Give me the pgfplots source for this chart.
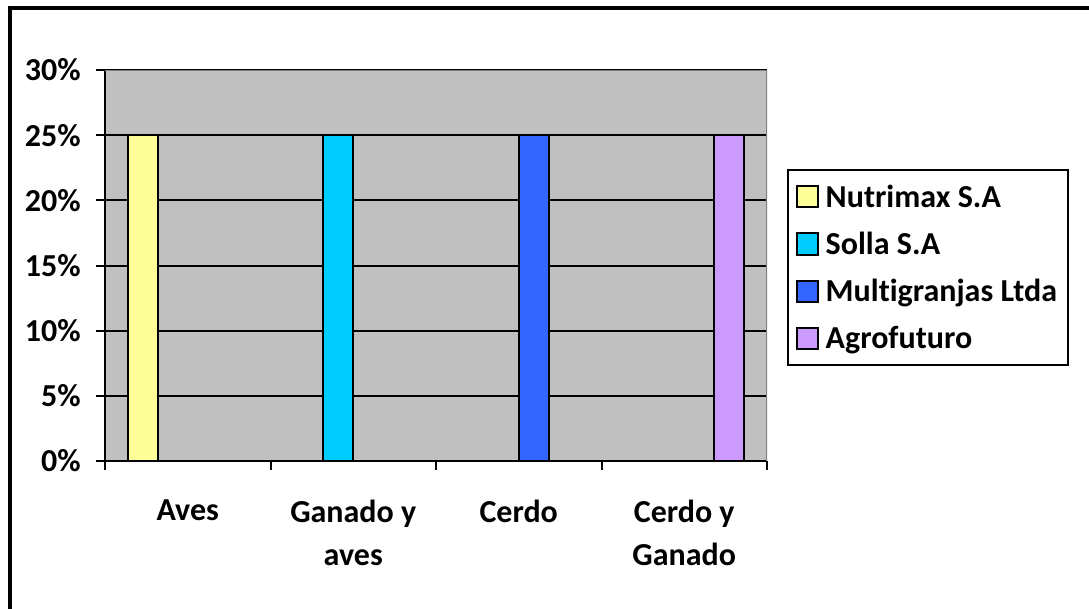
\documentclass[border=0pt]{standalone}
\usepackage{fontspec}
\setmainfont{Carlito}[Ligatures=NoCommon]
\usepackage{pgfplots}
\pgfplotsset{compat=1.18}
\definecolor{plotgray}{HTML}{C0C0C0}
\definecolor{framegray}{HTML}{808080}
\definecolor{cyellow}{HTML}{FFFF99}
\definecolor{ccyan}{HTML}{00CCFF}
\definecolor{cblue}{HTML}{3366FF}
\definecolor{cviolet}{HTML}{CC99FF}
\begin{document}
\begin{tikzpicture}[x=0.75pt,y=0.75pt]
\useasboundingbox (0,0) rectangle (1089,608);
\draw[line width=3pt] (10,-10) -- (10,600) -- (1100,600);
\begin{axis}[
  at={(78.75pt,110.25pt)}, anchor=south west,
  scale only axis, width=496.5pt, height=293.25pt,
  axis background/.style={fill=plotgray},
  axis lines*=left,
  axis line style={line width=1.5pt, black},
  ymin=0, ymax=30, xmin=-0.5, xmax=3.5,
  ytick={0,5,...,30},
  yticklabel={\pgfmathprintnumber{\tick}\%},
  /pgf/number format/assume math mode=true,
  xtick={0,1,2,3},
  xticklabels={Aves, Ganado y\\aves, Cerdo, Cerdo y\\Ganado},
  minor xtick={-0.5,0.5,1.5,2.5,3.5},
  tick align=outside,
  major tick length=6.75pt, minor tick length=6.75pt,
  tick style={line width=1.5pt, black},
  every major x tick/.style={draw=none},
  ymajorgrids,
  major grid style={line width=1.5pt, black},
  ticklabel style={font=\fontsize{24}{32}\selectfont\bfseries},
  xticklabel style={align=center, yshift=-19pt},
  yticklabel style={xshift=-8pt},
  ybar=0pt, bar width=22.5pt,
  legend image code/.code={\draw[#1] (0pt,-7.9pt) rectangle (15.75pt,7.9pt); \path (19pt,0pt);},
  legend style={at={(1.0298,0.7468)}, anchor=north west, draw=black, line width=1.5pt,
    fill=white, font=\fontsize{24}{28}\selectfont\bfseries, legend cell align=left,
    row sep=13pt, inner xsep=6pt, inner ysep=9pt},
]
\addplot[fill=cyellow, draw=black, line width=1.5pt] coordinates {(0,25)};
\addplot[fill=ccyan, draw=black, line width=1.5pt] coordinates {(1,25)};
\addplot[fill=cblue, draw=black, line width=1.5pt] coordinates {(2,25)};
\addplot[fill=cviolet, draw=black, line width=1.5pt] coordinates {(3,25)};
\legend{Nutrimax S.A, Solla S.A, Multigranjas Ltda, Agrofuturo}
\draw[framegray, line width=1.5pt] (rel axis cs:0,1) -- (rel axis cs:1,1) -- (rel axis cs:1,0);
\end{axis}
\end{tikzpicture}
\end{document}
